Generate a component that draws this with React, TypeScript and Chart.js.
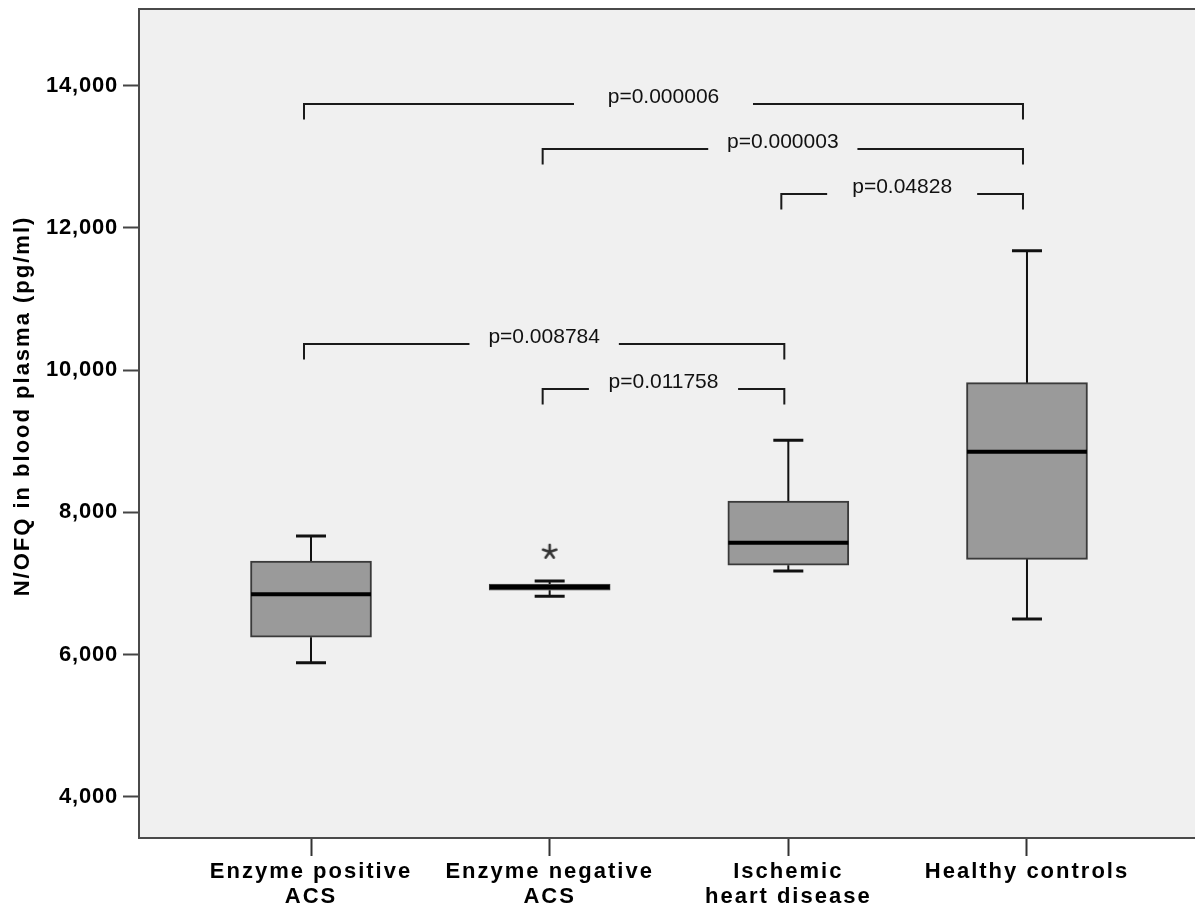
import { useEffect, useRef } from 'react';
import { Chart, registerables } from 'chart.js';

Chart.register(...registerables);

// ---------- data ----------
const categories: string[][] = [
  ['Enzyme positive', 'ACS'],
  ['Enzyme negative', 'ACS'],
  ['Ischemic', 'heart disease'],
  ['Healthy controls'],
];
const groupPos = [1, 2, 3, 4];
const whiskerLow = [5885, 6822, 7174, 6502];
const q1 = [6245, 6906, 7258, 7339];
const median = [6850, 6949, 7572, 8853];
const q3 = [7315, 6991, 8159, 9824];
const whiskerHigh = [7666, 7033, 9013, 11680];
const outlierGroup = [2];
const outlierValue = [7445];
const yTicks = [4000, 6000, 8000, 10000, 12000, 14000];
const yTitle = 'N/OFQ in blood plasma (pg/ml)';

const bracketFrom = [1, 2, 3, 1, 2];
const bracketTo = [4, 4, 4, 3, 3];
const bracketLevel = [13750, 13115, 12475, 10370, 9730];
const bracketText = ['p=0.000006', 'p=0.000003', 'p=0.04828', 'p=0.008784', 'p=0.011758'];

// ---------- style ----------
const FONT = '"Liberation Sans", Arial, Helvetica, sans-serif';
const bracketGapHalf = [89.5, 74.6, 75, 74.7, 74.6];

function makeStar(): HTMLCanvasElement {
  const c = document.createElement('canvas');
  c.width = 18;
  c.height = 18;
  const g = c.getContext('2d')!;
  g.strokeStyle = '#333';
  g.lineWidth = 2.6;
  g.lineCap = 'round';
  for (let k = 0; k < 5; k++) {
    const ang = -Math.PI / 2 + (k * 2 * Math.PI) / 5;
    g.beginPath();
    g.moveTo(9, 9);
    g.lineTo(9 + Math.cos(ang) * 7, 9 + Math.sin(ang) * 7);
    g.stroke();
  }
  return c;
}

const decorPlugin = {
  id: 'decor',
  afterLayout(chart: any) {
    const patch = (scale: any, spacing: string) => {
      if (!scale || scale.__ls) return;
      const orig = scale.drawLabels.bind(scale);
      scale.drawLabels = (area: any) => {
        const c = chart.ctx;
        c.save();
        c.letterSpacing = spacing;
        orig(area);
        c.restore();
      };
      scale.__ls = true;
    };
    patch(chart.scales.x, '2px');
    patch(chart.scales.y, '0.8px');
  },
  beforeDraw(chart: any) {
    const { ctx, chartArea: a } = chart;
    ctx.save();
    ctx.fillStyle = '#f0f0f0';
    ctx.fillRect(a.left, a.top, a.right - a.left, a.bottom - a.top);
    ctx.restore();
  },
  afterDatasetsDraw(chart: any) {
    const { ctx } = chart;
    const xs = chart.scales.x;
    const ys = chart.scales.y;
    ctx.save();
    ctx.lineCap = 'butt';
    groupPos.forEach((g, i) => {
      const x = xs.getPixelForValue(g);
      // whiskers
      ctx.strokeStyle = '#111';
      ctx.lineWidth = 2;
      ctx.beginPath();
      ctx.moveTo(x, ys.getPixelForValue(q3[i]));
      ctx.lineTo(x, ys.getPixelForValue(whiskerHigh[i]));
      ctx.moveTo(x, ys.getPixelForValue(q1[i]));
      ctx.lineTo(x, ys.getPixelForValue(whiskerLow[i]));
      ctx.stroke();
      // caps
      ctx.lineWidth = 3;
      ctx.beginPath();
      ctx.moveTo(x - 15, ys.getPixelForValue(whiskerHigh[i]));
      ctx.lineTo(x + 15, ys.getPixelForValue(whiskerHigh[i]));
      ctx.moveTo(x - 15, ys.getPixelForValue(whiskerLow[i]));
      ctx.lineTo(x + 15, ys.getPixelForValue(whiskerLow[i]));
      ctx.stroke();
      // median
      ctx.strokeStyle = '#000';
      ctx.lineWidth = 4;
      ctx.beginPath();
      ctx.moveTo(x - 60, ys.getPixelForValue(median[i]));
      ctx.lineTo(x + 60, ys.getPixelForValue(median[i]));
      ctx.stroke();
    });
    // significance brackets
    ctx.strokeStyle = '#1a1a1a';
    ctx.lineWidth = 2;
    ctx.font = `21px ${FONT}`;
    ctx.fillStyle = '#111';
    ctx.textAlign = 'center';
    ctx.textBaseline = 'middle';
    bracketFrom.forEach((f, i) => {
      const x1 = xs.getPixelForValue(f) - 7;
      const x2 = xs.getPixelForValue(bracketTo[i]) - 4;
      const y = Math.round(ys.getPixelForValue(bracketLevel[i]));
      const mid = (x1 + x2) / 2;
      const gap = bracketGapHalf[i];
      ctx.beginPath();
      ctx.moveTo(x1, y + 15.5);
      ctx.lineTo(x1, y);
      ctx.lineTo(mid - gap, y);
      ctx.moveTo(mid + gap, y);
      ctx.lineTo(x2, y);
      ctx.lineTo(x2, y + 15.5);
      ctx.stroke();
      ctx.fillText(bracketText[i], mid, y - 6.5);
    });
    ctx.restore();
  },
  afterDraw(chart: any) {
    const { ctx, chartArea: a } = chart;
    ctx.save();
    ctx.strokeStyle = '#4a4a4a';
    ctx.lineWidth = 2;
    ctx.beginPath();
    ctx.moveTo(a.left - 1, a.top);
    ctx.lineTo(a.right, a.top);
    ctx.stroke();
    ctx.translate(23, 406);
    ctx.rotate(-Math.PI / 2);
    ctx.font = `bold 22px ${FONT}`;
    (ctx as any).letterSpacing = '2px';
    ctx.textAlign = 'center';
    ctx.textBaseline = 'middle';
    ctx.fillStyle = '#000';
    ctx.fillText(yTitle, 0, 0);
    ctx.restore();
  },
};

export default function App() {
  const ref = useRef<HTMLCanvasElement>(null);
  useEffect(() => {
    document.body.style.margin = '0';
    const star = makeStar();
    const chart = new Chart(ref.current!, {
      type: 'bar',
      data: {
        datasets: [
          {
            type: 'bar',
            data: groupPos.map((x, i) => ({ x, y: [q1[i], q3[i]] })) as any,
            backgroundColor: '#9a9a9a',
            borderColor: '#3a3a3a',
            borderWidth: 2,
            borderSkipped: false,
            barThickness: 121,
          } as any,
          {
            type: 'scatter',
            data: outlierGroup.map((g, i) => ({ x: g, y: outlierValue[i] })),
            pointStyle: star,
            pointRadius: 9,
            pointHoverRadius: 9,
            showLine: false,
          } as any,
        ],
      },
      options: {
        responsive: false,
        animation: false,
        events: [],
        layout: { autoPadding: false, padding: { top: 9, left: 0, right: 0, bottom: 0 } },
        plugins: {
          legend: { display: false },
          tooltip: { enabled: false },
          title: { display: false },
        },
        scales: {
          x: {
            type: 'linear',
            offset: false,
            min: 0.2793,
            max: 4.704,
            afterBuildTicks: (s: any) => {
              s.ticks = groupPos.map((v) => ({ value: v }));
            },
            afterFit: (s: any) => {
              s.height = 72;
              s.paddingLeft = 0;
              s.paddingRight = 0;
            },
            grid: {
              display: true,
              offset: false,
              drawOnChartArea: false,
              drawTicks: true,
              tickLength: 18,
              tickWidth: 2,
              tickColor: '#333',
            },
            border: { display: true, color: '#4a4a4a', width: 2 },
            ticks: {
              autoSkip: false,
              maxRotation: 0,
              minRotation: 0,
              padding: 4,
              color: '#000',
              font: { family: FONT, size: 22, weight: 'bold', lineHeight: 1.12 },
              callback: (v: any) => categories[groupPos.indexOf(Number(v))] ?? '',
            },
          },
          y: {
            type: 'linear',
            min: 3420,
            max: 15080,
            afterBuildTicks: (s: any) => {
              s.ticks = yTicks.map((v) => ({ value: v }));
            },
            afterFit: (s: any) => {
              s.width = 139;
              s.paddingTop = 0;
              s.paddingBottom = 0;
            },
            grid: {
              display: true,
              drawOnChartArea: false,
              drawTicks: true,
              tickLength: 16,
              tickWidth: 2,
              tickColor: '#444',
            },
            border: { display: true, color: '#4a4a4a', width: 2 },
            ticks: {
              padding: 5,
              color: '#000',
              font: { family: FONT, size: 22, weight: 'bold' },
              callback: (v: any) => Number(v).toLocaleString('en-US'),
            },
          },
        },
      } as any,
      plugins: [decorPlugin],
    });
    return () => chart.destroy();
  }, []);
  return (
    <div style={{ position: 'absolute', left: 0, top: 0, width: 1195, height: 910 }}>
      <canvas ref={ref} width={1195} height={910} style={{ display: 'block' }} />
    </div>
  );
}
